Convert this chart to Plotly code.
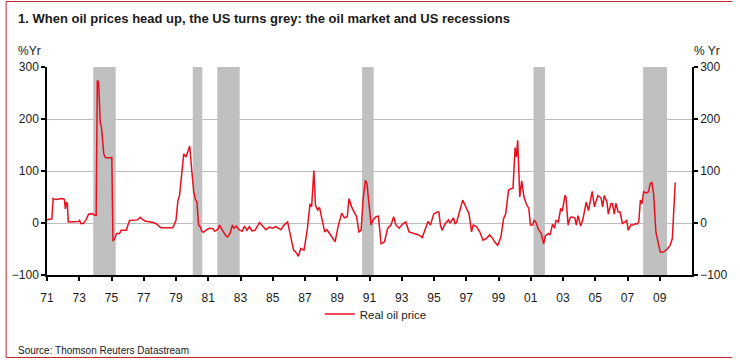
import plotly.graph_objects as go

TITLE = "1. When oil prices head up, the US turns grey: the oil market and US recessions"
SOURCE = "Source: Thomson Reuters Datastream"
SERIES_NAME = "Real oil price"

YEARS = [
    1971.00, 1971.30, 1971.38, 1971.55, 1971.75, 1971.95, 1972.08, 1972.14, 1972.20, 1972.26,
    1972.32, 1972.60, 1972.95, 1973.02, 1973.10, 1973.25, 1973.42, 1973.58, 1973.80, 1973.95,
    1974.05, 1974.12, 1974.20, 1974.30, 1974.38, 1974.52, 1974.62, 1974.85, 1975.02, 1975.09,
    1975.20, 1975.32, 1975.50, 1975.60, 1975.92, 1976.02, 1976.12, 1976.62, 1976.78, 1976.88,
    1977.08, 1977.60, 1977.80, 1978.05, 1978.80, 1979.00, 1979.12, 1979.22, 1979.32, 1979.48,
    1979.62, 1979.75, 1979.85, 1979.96, 1980.10, 1980.20, 1980.30, 1980.40, 1980.50, 1980.60,
    1980.70, 1980.90, 1981.10, 1981.30, 1981.40, 1981.60, 1981.70, 1981.80, 1981.90, 1982.10,
    1982.20, 1982.35, 1982.50, 1982.60, 1982.75, 1982.90, 1983.10, 1983.25, 1983.40, 1983.55,
    1983.72, 1983.90, 1984.18, 1984.38, 1984.58, 1984.78, 1984.98, 1985.20, 1985.50, 1985.70,
    1985.92, 1986.12, 1986.29, 1986.43, 1986.59, 1986.73, 1986.94, 1987.14, 1987.31, 1987.41,
    1987.55, 1987.65, 1987.79, 1987.90, 1988.06, 1988.22, 1988.36, 1988.57, 1988.87, 1989.07,
    1989.28, 1989.44, 1989.62, 1989.73, 1989.89, 1990.10, 1990.20, 1990.34, 1990.48, 1990.60,
    1990.74, 1990.84, 1990.94, 1991.10, 1991.20, 1991.40, 1991.55, 1991.72, 1991.93, 1992.13,
    1992.33, 1992.50, 1992.64, 1992.84, 1993.05, 1993.25, 1993.45, 1993.66, 1993.86, 1994.06,
    1994.27, 1994.47, 1994.63, 1994.78, 1994.98, 1995.19, 1995.30, 1995.40, 1995.50, 1995.70,
    1995.90, 1996.00, 1996.20, 1996.30, 1996.40, 1996.78, 1997.00, 1997.17, 1997.33, 1997.43,
    1997.63, 1997.84, 1998.04, 1998.24, 1998.45, 1998.65, 1998.75, 1998.95, 1999.15, 1999.31,
    1999.45, 1999.62, 1999.76, 1999.90, 2000.03, 2000.11, 2000.19, 2000.32, 2000.44, 2000.58,
    2000.72, 2000.88, 2000.98, 2001.12, 2001.22, 2001.34, 2001.48, 2001.65, 2001.80, 2001.90,
    2002.10, 2002.20, 2002.35, 2002.47, 2002.57, 2002.71, 2002.86, 2002.96, 2003.12, 2003.18,
    2003.32, 2003.42, 2003.52, 2003.73, 2003.83, 2003.93, 2004.10, 2004.24, 2004.34, 2004.44,
    2004.58, 2004.68, 2004.81, 2004.95, 2005.16, 2005.36, 2005.46, 2005.56, 2005.73, 2005.81,
    2005.97, 2006.07, 2006.18, 2006.28, 2006.42, 2006.54, 2006.68, 2006.83, 2006.95, 2007.05,
    2007.20, 2007.35, 2007.50, 2007.60, 2007.70, 2007.80, 2007.90, 2008.00, 2008.17, 2008.31,
    2008.41, 2008.51, 2008.62, 2008.76, 2008.88, 2009.03, 2009.23, 2009.33, 2009.47, 2009.64,
    2009.78, 2009.96,
]

REAL_OIL = [
    6, 8, 47, 45, 46, 47, 45, 27, 40, 38,
    2, 2, 3, 5, -1, -1, 6, 17, 18, 15,
    15, 274, 272, 194, 184, 133, 126, 125, 126, -35,
    -30, -20, -20, -14, -14, -4, 5, 6, 11, 8,
    4, 1, -2, -9, -9, 5, 43, 53, 88, 133,
    127, 137, 148, 107, 60, 46, 40, -4, -7, -16,
    -18, -13, -10, -11, -16, -12, -4, -10, -15, -25,
    -27, -20, -4, -10, -6, -13, -16, -6, -14, -7,
    -15, -14, 1, -5, -13, -8, -10, -7, -13, -4,
    2, -27, -52, -56, -64, -49, -52, -13, 37, 31,
    101, 34, 25, 30, 5, -17, -13, -23, -36, -4,
    19, 10, 12, 47, 31, 18, 12, -17, -14, 44,
    82, 76, 44, -4, 5, 12, 13, -40, -36, -10,
    -4, 12, -4, -10, -2, 2, -17, -19, -21, -23,
    -28, -10, 3, -4, 17, 21, 21, -4, -14, -1,
    6, 0, 10, -1, 1, 44, 28, 18, -17, -4,
    -7, -17, -33, -30, -23, -30, -36, -43, -27, 8,
    18, 63, 66, 67, 145, 127, 159, 50, 81, 50,
    37, 28, -4, -4, 6, 0, -13, -20, -40, -25,
    -20, -23, -2, -10, 5, 2, 28, 23, 53, 50,
    -4, 8, 12, 10, -4, 14, -6, 8, 24, 40,
    24, 44, 61, 31, 53, 48, 31, 53, 40, 17,
    37, 37, 17, 38, 21, 21, -1, 2, 5, -14,
    -4, -4, -1, -2, 2, 44, 37, 60, 58, 60,
    76, 78, 56, -17, -36, -56, -56, -54, -50, -43,
    -30, 78,
]

# US recessions (decimal years)
REC_START = [1973.87, 1980.04, 1981.56, 1990.54, 2001.17, 2007.97]
REC_END = [1975.26, 1980.63, 1982.95, 1991.26, 2001.88, 2009.45]

X_TICKS = list(range(1971, 2011, 2))
X_LABELS = [f"{y % 100:02d}" for y in X_TICKS]
Y_TICKS = [-100, 0, 100, 200, 300]
Y_RANGE = [-100, 300]
X_RANGE = [1971, 2011]

FONT = "Liberation Sans, Arial, sans-serif"
TXT = "#1a1a1a"
RED = "#E8101E"
FRAME = "#C0282E"

W, H = 740, 361
L, R, T, B = 44, 41, 67, 86
PW, PH = W - L - R, H - T - B


def px(x):
    return (x - L) / PW


def py(y):
    return (H - B - y) / PH


fig = go.Figure()
fig.add_trace(go.Scatter(
    x=YEARS, y=REAL_OIL, mode="lines", name=SERIES_NAME,
    line=dict(color=RED, width=1.5), yaxis="y",
))
fig.add_trace(go.Scatter(
    x=[X_RANGE[0]], y=[0], mode="markers", marker=dict(opacity=0),
    showlegend=False, hoverinfo="skip", yaxis="y2",
))

shapes = []
for s, e in zip(REC_START, REC_END):
    shapes.append(dict(type="rect", xref="x", yref="y", x0=s, x1=e,
                       y0=Y_RANGE[0], y1=Y_RANGE[1], fillcolor="#C0C0C0",
                       line=dict(width=0), layer="between"))
# frame lines (left, top, bottom)
shapes.append(dict(type="line", xref="paper", yref="paper", x0=px(2.5), x1=px(2.5),
                   y0=py(1.5), y1=py(357.5), line=dict(color=FRAME, width=1)))
shapes.append(dict(type="line", xref="paper", yref="paper", x0=px(2.5), x1=px(740),
                   y0=py(1.5), y1=py(1.5), line=dict(color=FRAME, width=1)))
shapes.append(dict(type="line", xref="paper", yref="paper", x0=px(2.5), x1=px(740),
                   y0=py(357.5), y1=py(357.5), line=dict(color=FRAME, width=1)))

annotations = [
    dict(text=f"<b>{TITLE}</b>", xref="paper", yref="paper", x=px(13), y=py(19),
         xanchor="left", yanchor="middle", showarrow=False,
         font=dict(family=FONT, size=13, color=TXT)),
    dict(text="%Yr", xref="paper", yref="paper", x=px(13), y=py(51),
         xanchor="left", yanchor="middle", showarrow=False,
         font=dict(family=FONT, size=12, color=TXT)),
    dict(text="% Yr", xref="paper", yref="paper", x=px(729), y=py(51),
         xanchor="right", yanchor="middle", showarrow=False,
         font=dict(family=FONT, size=12, color=TXT)),
    dict(text=SOURCE, xref="paper", yref="paper", x=px(13), y=py(350),
         xanchor="left", yanchor="middle", showarrow=False,
         font=dict(family=FONT, size=10, color=TXT)),
]

fig.update_layout(
    width=W, height=H,
    margin=dict(l=L, r=R, t=T, b=B, pad=0),
    paper_bgcolor="white", plot_bgcolor="white",
    font=dict(family=FONT, size=12, color=TXT),
    showlegend=True,
    legend=dict(orientation="h", x=px(321), y=py(314), xanchor="left", yanchor="middle",
                font=dict(family=FONT, size=11.5, color=TXT), bgcolor="rgba(0,0,0,0)"),
    xaxis=dict(range=X_RANGE, tickmode="array", tickvals=X_TICKS, ticktext=X_LABELS,
               showgrid=False, zeroline=False, showline=True, linecolor="black", linewidth=2,
               ticks="outside", ticklen=4, tickwidth=1.5, tickcolor="black",
               ticklabelstandoff=7, tickfont=dict(family=FONT, size=12, color=TXT)),
    yaxis=dict(range=Y_RANGE, tickmode="array", tickvals=Y_TICKS,
               showgrid=True, gridcolor="#BDBDBD", gridwidth=1.2, zeroline=False,
               showline=True, linecolor="black", linewidth=1.5,
               ticks="outside", ticklen=4, tickwidth=1.5, tickcolor="black",
               tickfont=dict(family=FONT, size=12, color=TXT)),
    yaxis2=dict(range=Y_RANGE, tickmode="array", tickvals=Y_TICKS, overlaying="y", side="right",
                showgrid=False, zeroline=False, showline=True, linecolor="black", linewidth=1.5,
                ticks="outside", ticklen=4, tickwidth=1.5, tickcolor="black",
                tickfont=dict(family=FONT, size=12, color=TXT)),
    shapes=shapes,
    annotations=annotations,
)

fig.write_html("out.html", config={"displayModeBar": False},
               post_script="document.body.style.margin='0px';")
